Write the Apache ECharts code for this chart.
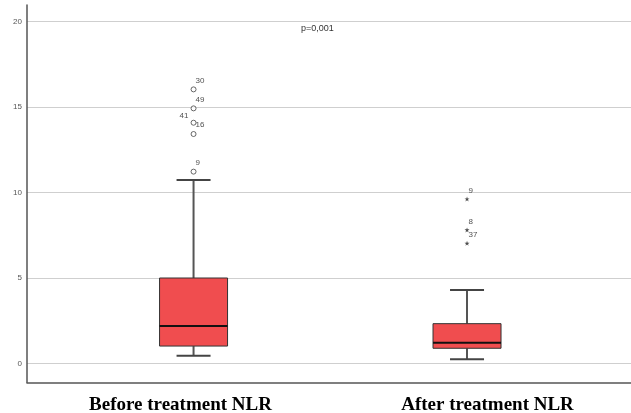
<!DOCTYPE html>
<html><head><meta charset="utf-8">
<script src="https://cdn.jsdelivr.net/npm/echarts@6/dist/echarts.min.js"></script>
<style>html,body{margin:0;padding:0;background:#fff}#c{width:631px;height:413px}</style>
</head><body><div id="c"></div>
<script>
var categories = ['Before treatment NLR', 'After treatment NLR'];
var boxPositions = [0, 1];
// [low whisker, Q1, median, Q3, high whisker]
var beforeBox = [0.46, 1.02, 2.19, 5.0, 10.73];
var afterBox = [0.25, 0.89, 1.22, 2.33, 4.3];
var beforeOutliers = [16.03, 14.92, 14.08, 13.42, 11.22];
var beforeOutlierIds = ['30', '49', '41', '16', '9'];
var afterOutliers = [9.62, 7.81, 7.03];
var afterOutlierIds = ['9', '8', '37'];
var yTicks = [0, 5, 10, 15, 20];
var pText = 'p=0,001';

var boxData = [[boxPositions[0]].concat(beforeBox), [boxPositions[1]].concat(afterBox)];
var circleData = beforeOutliers.map(function (v, i) { return { value: [boxPositions[0], v], name: beforeOutlierIds[i] }; });
var starData = afterOutliers.map(function (v, i) { return { value: [boxPositions[1], v], name: afterOutlierIds[i] }; });

var chart = echarts.init(document.getElementById('c'));
var starPath = 'path://M0,-5 L1.2,-1.6 L4.8,-1.6 L1.9,0.6 L3,4 L0,1.9 L-3,4 L-1.9,0.6 L-4.8,-1.6 L-1.2,-1.6 Z';

chart.setOption({
  animation: false,
  grid: [
    { left: 27, right: 0, top: 21.5, bottom: 49.5, outerBoundsMode: 'none', containLabel: false },
    { left: 27, right: 0, top: 5, bottom: 30.5, outerBoundsMode: 'none', containLabel: false }
  ],
  xAxis: [
    { type: 'value', gridIndex: 0, min: -0.609, max: 1.5996, show: false },
    { type: 'category', gridIndex: 1, data: categories,
      axisLine: { show: true, lineStyle: { color: '#555', width: 1.5 } },
      axisTick: { show: false },
      axisLabel: {
        margin: 13,
        formatter: function (v, i) { return '{' + (i === 0 ? 'a' : 'b') + '|' + v + '}'; },
        rich: {
          a: { padding: [0, 0, 0, 5], fontFamily: 'Liberation Serif', fontWeight: 'bold', fontSize: 19, color: '#000' },
          b: { padding: [0, 0, 0, 15], fontFamily: 'Liberation Serif', fontWeight: 'bold', fontSize: 19, color: '#000' }
        }
      } }
  ],
  yAxis: [
    { type: 'value', gridIndex: 0, min: yTicks[0], max: yTicks[yTicks.length - 1], interval: 5,
      axisLine: { show: false }, axisTick: { show: false },
      axisLabel: { margin: 5, fontSize: 8, color: '#555', fontFamily: 'Liberation Sans' },
      splitLine: { lineStyle: { color: '#cfcfcf', width: 1 } } },
    { type: 'value', gridIndex: 1, min: 0, max: 1,
      axisLine: { show: true, lineStyle: { color: '#555', width: 1.5 } },
      axisTick: { show: false }, axisLabel: { show: false }, splitLine: { show: false } }
  ],
  graphic: [{
    type: 'text', left: 301, top: 24,
    style: { text: pText, fontSize: 9, fontFamily: 'Liberation Sans', fill: '#333' }
  }],
  series: [
    {
      type: 'custom', xAxisIndex: 0, yAxisIndex: 0, data: boxData,
      encode: { x: 0, y: [1, 2, 3, 4, 5] },
      renderItem: function (params, api) {
        var x = api.value(0);
        var low = api.coord([x, api.value(1)]);
        var q1 = api.coord([x, api.value(2)]);
        var med = api.coord([x, api.value(3)]);
        var q3 = api.coord([x, api.value(4)]);
        var high = api.coord([x, api.value(5)]);
        var cx = low[0];
        var hw = 34, cw = 17;
        var wStyle = { stroke: '#555', lineWidth: 2 };
        return {
          type: 'group',
          children: [
            { type: 'line', shape: { x1: cx, y1: high[1], x2: cx, y2: q3[1] }, style: wStyle },
            { type: 'line', shape: { x1: cx, y1: q1[1], x2: cx, y2: low[1] }, style: wStyle },
            { type: 'line', shape: { x1: cx - cw, y1: high[1], x2: cx + cw, y2: high[1] }, style: { stroke: '#444', lineWidth: 2 } },
            { type: 'line', shape: { x1: cx - cw, y1: low[1], x2: cx + cw, y2: low[1] }, style: { stroke: '#444', lineWidth: 2 } },
            { type: 'rect', shape: { x: cx - hw, y: q3[1], width: hw * 2, height: q1[1] - q3[1] }, style: { fill: '#f04d4f', stroke: '#333', lineWidth: 1 } },
            { type: 'line', shape: { x1: cx - hw, y1: med[1], x2: cx + hw, y2: med[1] }, style: { stroke: '#111', lineWidth: 2 } }
          ]
        };
      }
    },
    {
      type: 'scatter', xAxisIndex: 0, yAxisIndex: 0, data: circleData,
      symbol: 'circle', symbolSize: 5,
      itemStyle: { color: '#fff', borderColor: '#444', borderWidth: 1 },
      label: {
        show: true, formatter: '{b}', fontSize: 8, color: '#222', fontFamily: 'Liberation Sans',
        position: [5, -10]
      },
      labelLayout: function (p) {
        if (p.dataIndex === 2) { return { dx: -16, dy: 2 }; }
        return {};
      }
    },
    {
      type: 'scatter', xAxisIndex: 0, yAxisIndex: 0, data: starData,
      symbol: starPath, symbolSize: 5,
      itemStyle: { color: '#222' },
      label: {
        show: true, formatter: '{b}', fontSize: 8, color: '#222', fontFamily: 'Liberation Sans',
        position: [4, -10]
      }
    }
  ]
});
</script></body></html>
